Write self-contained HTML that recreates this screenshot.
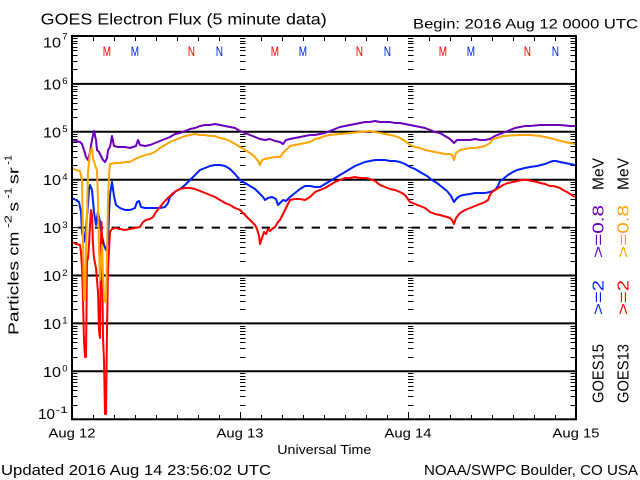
<!DOCTYPE html>
<html><head><meta charset="utf-8"><style>
html,body{margin:0;padding:0;background:#fff;}
svg{display:block;}
text{font-family:"Liberation Sans",sans-serif;}
</style></head><body>
<svg width="640" height="480" viewBox="0 0 640 480" xmlns="http://www.w3.org/2000/svg">
<rect width="640" height="480" fill="#fff"/>
<defs>
<path id="tk" fill="none" stroke="#000" stroke-width="1" d="M0 405.5h5.5M0 396.5h5.5M0 390.5h5.5M0 386.5h5.5M0 382.5h5.5M0 379.5h5.5M0 376.5h5.5M0 373.5h5.5
M0 357.5h5.5M0 348.5h5.5M0 342.5h5.5M0 338.5h5.5M0 334.5h5.5M0 331.5h5.5M0 328.5h5.5M0 326.5h5.5
M0 309.5h5.5M0 301.5h5.5M0 295.5h5.5M0 290.5h5.5M0 286.5h5.5M0 283.5h5.5M0 280.5h5.5M0 278.5h5.5
M0 261.5h5.5M0 253.5h5.5M0 247.5h5.5M0 242.5h5.5M0 238.5h5.5M0 235.5h5.5M0 232.5h5.5M0 230.5h5.5
M0 213.5h5.5M0 205.5h5.5M0 199.5h5.5M0 194.5h5.5M0 190.5h5.5M0 187.5h5.5M0 184.5h5.5M0 182.5h5.5
M0 165.5h5.5M0 157.5h5.5M0 151.5h5.5M0 146.5h5.5M0 142.5h5.5M0 139.5h5.5M0 136.5h5.5M0 134.5h5.5
M0 117.5h5.5M0 109.5h5.5M0 103.5h5.5M0 98.5h5.5M0 95.5h5.5M0 91.5h5.5M0 89.5h5.5M0 86.5h5.5
M0 69.5h5.5M0 61.5h5.5M0 55.5h5.5M0 50.5h5.5M0 47.5h5.5M0 43.5h5.5M0 41.5h5.5M0 38.5h5.5
M0 227.6h10M0 323.4h10M0 371.3h10M0 275.5h10M0 179.7h10M0 131.8h10M0 83.9h10"/>
</defs>

<!-- title texts -->
<text x="40.7" y="24.3" font-size="16" textLength="286" lengthAdjust="spacingAndGlyphs">GOES Electron Flux (5 minute data)</text>
<text x="413" y="28.3" font-size="14" textLength="225" lengthAdjust="spacingAndGlyphs">Begin: 2016 Aug 12 0000 UTC</text>

<!-- decade lines -->
<g stroke="#000" stroke-width="2" fill="none">
<line x1="72" y1="83.9" x2="576" y2="83.9"/>
<line x1="72" y1="131.8" x2="576" y2="131.8"/>
<line x1="72" y1="179.7" x2="576" y2="179.7"/>
<line x1="72" y1="275.5" x2="576" y2="275.5"/>
<line x1="72" y1="323.4" x2="576" y2="323.4"/>
<line x1="72" y1="371.3" x2="576" y2="371.3"/>
<line x1="72" y1="227.6" x2="576" y2="227.6" stroke-dasharray="8.3 8.37" stroke-dashoffset="10.37"/>
</g>

<!-- log ticks -->
<use href="#tk" x="72" y="0"/>
<use href="#tk" x="240" y="0"/>
<use href="#tk" x="408" y="0"/>
<use href="#tk" transform="translate(576,0) scale(-1,1)"/>

<!-- time ticks -->
<path fill="none" stroke="#000" stroke-width="1" d="M93.5 419v-4M114.5 419v-4M135.5 419v-4M156.5 419v-4M177.5 419v-4M198.5 419v-4M219.5 419v-4M240.5 419v-7M261.5 419v-4M282.5 419v-4M303.5 419v-4M324.5 419v-4M345.5 419v-4M366.5 419v-4M387.5 419v-4M408.5 419v-7M429.5 419v-4M450.5 419v-4M471.5 419v-4M492.5 419v-4M513.5 419v-4M534.5 419v-4M555.5 419v-4
M93.5 37v4M114.5 37v4M135.5 37v4M156.5 37v4M177.5 37v4M198.5 37v4M219.5 37v4M261.5 37v4M282.5 37v4M303.5 37v4M324.5 37v4M345.5 37v4M366.5 37v4M387.5 37v4M429.5 37v4M450.5 37v4M471.5 37v4M492.5 37v4M513.5 37v4M534.5 37v4M555.5 37v4"/>

<!-- data series -->
<g fill="none" stroke-width="2" stroke-linejoin="round">
<polyline stroke="#0020FF" points="72,198 76,200 79,202 81,212 82,232 84,242 86,228 88,205 89,190 90,185 92,190 94,212 96,225 98,212 100,222 102,236 104,245 106,250 108,242 109,215 110,195 112,182 114,196 116,205 120,208 125,210 130,210 135,208 137,202 139,201 141,207 145,208 150,208 155,208 160,208 165,207 168,203 170,197 173,194 176,191 180,189 185,185 190,180 195,175 200,170 205,168 210,166 215,165 220,165 225,166 230,169 235,174 240,180 245,183 250,186 255,189 260,194 263,197 265,200 268,198 272,197 276,199 278,205 280,203 283,200 286,201 290,197 295,193 300,189 305,186 310,186 315,187 320,187 325,184 330,181 335,178 340,175 345,172 350,169 355,166 360,164 365,162 370,161 375,160 380,160 385,160 390,161 395,161 400,162 405,164 410,167 415,169 420,172 427,176 432,180 437,183 442,187 447,191 451,196 454,202 457,198 460,196 463,195 470,194 475,193 480,193 485,193 490,192 495,190 498,186 500,181 503,179 508,175 513,172 517,170 525,168 530,167 537,166 545,164 550,162 553,161 556,161 560,162 565,163 570,164 575,165"/>
<polyline stroke="#FF0000" points="72,242 76,244 80,245 81,252 82,268 83,300 84,340 85,357 86,357 86.5,310 87,262 88,258 89,245 90,225 91,210 92,215 93,245 94,258 96,268 97,280 98,292 99,330 100,338 101,240 101.5,222 102,238 103,338 104,360 105,414 106,414 107,330 108,270 109,250 110,232 112,229 115,228 120,229 125,230 130,229 135,228 140,227 143,222 146,220 150,219 153,217 156,212 160,207 164,202 168,198 172,194 176,191 180,189 185,188 190,188 195,189 200,191 205,193 210,195 215,197 220,200 225,203 230,205 235,208 240,210 245,215 250,220 255,225 257,229 259,236 260,244 262,238 264,232 266,234 268,229 270,231 272,229 275,227 278,222 280,220 283,214 285,210 288,204 290,200 295,199 300,199 305,200 310,197 315,192 320,190 325,188 330,185 335,182 340,180 345,178 350,178 355,177 360,178 365,178 370,179 375,181 380,185 385,187 390,189 395,190 400,192 405,195 410,202 415,204 420,206 425,208 430,212 435,214 440,215 447,217 450,218 452,220 454,224 456,218 460,213 465,210 470,208 475,206 480,204 485,202 488,200 490,195 492,192 495,190 500,187 503,185 508,183 513,182 517,181 522,180 527,180 532,181 537,182 540,183 545,184 550,186 553,186 557,187 560,188 563,190 567,192 570,194 575,197"/>
<polyline stroke="#6A00BE" points="72,140 76,141 80,142 82,144 84,150 86,157 88,160 90,152 92,140 94,131 96,140 97,150 99,152 101,156 103,160 105,162 107,158 108,150 110,147 112,136 114,146 118,147 125,147 130,148 136,146 138,140 140,145 145,146 150,145 155,143 160,141 165,139 170,137 175,134 180,133 185,131 190,129 195,128 200,126 205,125 210,125 215,124 220,125 225,126 230,127 235,128 240,131 245,133 250,135 255,137 260,139 265,140 270,139 275,141 280,142 283,144 286,140 290,139 295,138 300,137 305,136 310,135 315,135 320,134 325,133 330,131 335,129 340,127 345,126 350,125 355,124 360,123 365,122 370,122 375,121 380,122 385,122 390,122 395,123 400,123 405,124 410,125 415,126 420,127 425,128 430,130 435,132 440,133 445,136 450,139 454,143 457,140 460,140 465,140 470,140 475,139 480,140 485,140 490,139 495,136 500,134 505,132 510,130 515,128 520,127 525,126 530,126 540,125 550,125 560,125 570,126 575,126"/>
<polyline stroke="#FFA500" points="72,168 76,170 80,171 82,180 83,240 84,300 85,300 86,250 87,215 88,172 90,152 92,148 93,158 95,165 97,170 98,200 99,250 100,280 101,262 102,245 103,275 104,300 106,302 107,255 108,200 109,175 110,164 115,163 120,163 125,162 130,162 135,159 140,157 145,155 150,154 155,152 160,148 165,145 170,142 175,140 180,138 185,136 190,135 195,134 200,135 205,135 210,136 215,136 220,138 225,139 230,141 235,144 240,147 245,150 250,153 255,157 258,161 260,165 262,160 265,159 270,158 275,157 280,157 283,153 286,150 290,146 295,145 300,144 305,143 310,142 315,139 320,138 325,136 330,135 340,134 350,133 360,132 370,131 375,132 380,133 385,134 390,135 395,136 400,138 405,141 410,145 415,147 420,148 425,150 430,151 435,152 440,153 445,154 450,154 452,155 454,160 456,153 460,150 465,149 470,148 475,148 480,147 485,146 490,143 493,139 497,138 503,136 510,135.5 520,135 530,135 540,136 545,137 550,138 557,140 565,142 570,143 575,144"/>
</g>

<!-- frame -->
<rect x="72" y="36" width="504" height="383.3" fill="none" stroke="#000" stroke-width="2"/>

<!-- M / N markers -->
<g font-size="14">
<text x="102.7" y="56" fill="#FF0000" textLength="8.3" lengthAdjust="spacingAndGlyphs">M</text>
<text x="130.7" y="56" fill="#0020FF" textLength="8.3" lengthAdjust="spacingAndGlyphs">M</text>
<text x="187.8" y="56" fill="#FF0000" textLength="7.3" lengthAdjust="spacingAndGlyphs">N</text>
<text x="215.8" y="56" fill="#0020FF" textLength="7.3" lengthAdjust="spacingAndGlyphs">N</text>
<text x="270.7" y="56" fill="#FF0000" textLength="8.3" lengthAdjust="spacingAndGlyphs">M</text>
<text x="298.7" y="56" fill="#0020FF" textLength="8.3" lengthAdjust="spacingAndGlyphs">M</text>
<text x="355.8" y="56" fill="#FF0000" textLength="7.3" lengthAdjust="spacingAndGlyphs">N</text>
<text x="383.8" y="56" fill="#0020FF" textLength="7.3" lengthAdjust="spacingAndGlyphs">N</text>
<text x="438.7" y="56" fill="#FF0000" textLength="8.3" lengthAdjust="spacingAndGlyphs">M</text>
<text x="466.7" y="56" fill="#0020FF" textLength="8.3" lengthAdjust="spacingAndGlyphs">M</text>
<text x="523.8" y="56" fill="#FF0000" textLength="7.3" lengthAdjust="spacingAndGlyphs">N</text>
<text x="551.8" y="56" fill="#0020FF" textLength="7.3" lengthAdjust="spacingAndGlyphs">N</text>
</g>

<!-- y tick labels -->
<g font-size="14.5">
<text x="43" y="47.3" textLength="18" lengthAdjust="spacingAndGlyphs">10</text>
<text x="43" y="89.4" textLength="18" lengthAdjust="spacingAndGlyphs">10</text>
<text x="43" y="137.3" textLength="18" lengthAdjust="spacingAndGlyphs">10</text>
<text x="43" y="185.2" textLength="18" lengthAdjust="spacingAndGlyphs">10</text>
<text x="43" y="233.1" textLength="18" lengthAdjust="spacingAndGlyphs">10</text>
<text x="43" y="281" textLength="18" lengthAdjust="spacingAndGlyphs">10</text>
<text x="43" y="328.9" textLength="18" lengthAdjust="spacingAndGlyphs">10</text>
<text x="43" y="376.8" textLength="18" lengthAdjust="spacingAndGlyphs">10</text>
<text x="38" y="419" textLength="17" lengthAdjust="spacingAndGlyphs">10</text>
</g>
<g font-size="9.5">
<text x="62.3" y="39.5">7</text>
<text x="62.3" y="84">6</text>
<text x="62.3" y="132">5</text>
<text x="62.3" y="180">4</text>
<text x="62.3" y="228">3</text>
<text x="62.3" y="276">2</text>
<text x="62.3" y="323.5">1</text>
<text x="62.3" y="371.5">0</text>
<text x="55.5" y="413" textLength="12.5" lengthAdjust="spacingAndGlyphs">-1</text>
</g>

<!-- y axis title -->
<g font-size="15">
<text transform="translate(18.5,335) rotate(-90)" textLength="74" lengthAdjust="spacingAndGlyphs">Particles</text>
<text transform="translate(18.5,255.6) rotate(-90)" textLength="24" lengthAdjust="spacingAndGlyphs">cm</text>
<text transform="translate(18.5,211.5) rotate(-90)" textLength="9.5" lengthAdjust="spacingAndGlyphs">s</text>
<text transform="translate(18.5,184.3) rotate(-90)" textLength="17" lengthAdjust="spacingAndGlyphs">sr</text>
</g>
<g font-size="10">
<text transform="translate(11.5,228) rotate(-90)" textLength="13" lengthAdjust="spacingAndGlyphs">-2</text>
<text transform="translate(11.5,198.4) rotate(-90)" textLength="10.6" lengthAdjust="spacingAndGlyphs">-1</text>
<text transform="translate(11.5,164.7) rotate(-90)" textLength="9.7" lengthAdjust="spacingAndGlyphs">-1</text>
</g>

<!-- x labels -->
<g font-size="13" text-anchor="start">
<text x="48.5" y="437.3" textLength="47" lengthAdjust="spacingAndGlyphs">Aug 12</text>
<text x="216.5" y="437.3" textLength="47" lengthAdjust="spacingAndGlyphs">Aug 13</text>
<text x="384.5" y="437.3" textLength="47" lengthAdjust="spacingAndGlyphs">Aug 14</text>
<text x="552.5" y="437.3" textLength="47" lengthAdjust="spacingAndGlyphs">Aug 15</text>
<text x="277.3" y="454" textLength="94" lengthAdjust="spacingAndGlyphs">Universal Time</text>
</g>

<!-- footer -->
<text x="1" y="474.8" font-size="14.5" textLength="270" lengthAdjust="spacingAndGlyphs">Updated 2016 Aug 14 23:56:02 UTC</text>
<text x="424" y="474.8" font-size="14.5" textLength="214" lengthAdjust="spacingAndGlyphs">NOAA/SWPC Boulder, CO USA</text>

<!-- right legend -->
<g font-size="16">
<text transform="translate(603.5,190) rotate(-90)" textLength="32" lengthAdjust="spacingAndGlyphs" fill="#000">MeV</text>
<text transform="translate(603.5,258) rotate(-90)" textLength="53" lengthAdjust="spacingAndGlyphs" fill="#6A00BE">&gt;=0.8</text>
<text transform="translate(603.5,315) rotate(-90)" textLength="35" lengthAdjust="spacingAndGlyphs" fill="#0020FF">&gt;=2</text>
<text transform="translate(603.5,403) rotate(-90)" textLength="59" lengthAdjust="spacingAndGlyphs" fill="#000">GOES15</text>
<text transform="translate(628.5,190) rotate(-90)" textLength="32" lengthAdjust="spacingAndGlyphs" fill="#000">MeV</text>
<text transform="translate(628.5,258) rotate(-90)" textLength="53" lengthAdjust="spacingAndGlyphs" fill="#FFA500">&gt;=0.8</text>
<text transform="translate(628.5,315) rotate(-90)" textLength="35" lengthAdjust="spacingAndGlyphs" fill="#FF0000">&gt;=2</text>
<text transform="translate(628.5,403) rotate(-90)" textLength="59" lengthAdjust="spacingAndGlyphs" fill="#000">GOES13</text>
</g>
</svg>
</body></html>
